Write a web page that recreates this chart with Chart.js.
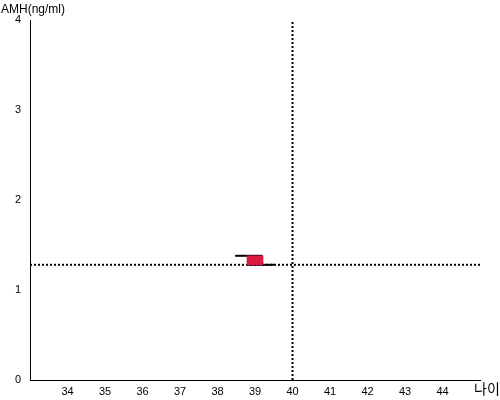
<!DOCTYPE html>
<html>
<head>
<meta charset="utf-8">
<script src="https://cdn.jsdelivr.net/npm/chart.js@4/dist/chart.umd.min.js"></script>
<style>
  body { margin: 0; background: #fff; }
  #wrap { width: 500px; height: 400px; }
</style>
</head>
<body>
<div id="wrap"><canvas id="amhChart" width="500" height="400"></canvas></div>
<script>
// data
const ageRange = [33, 45];
const ageTicks = [34, 35, 36, 37, 38, 39, 40, 41, 42, 43, 44];
const amhRange = [0, 4];
const patientAge = 39;
const patientAmh = [1.28, 1.38];
const topMark = [38.47, 39.2];      // upper black bar, x from / to
const bottomMark = [38.8, 39.53];   // lower black bar, x from / to
const refAge = 40;
const refAmh = 1.28;

const axisTitles = {
    id: 'axisTitles',
    afterDraw(chart) {
        const c = chart.ctx;
        c.save();
        c.fillStyle = '#000';
        c.textBaseline = 'top';
        c.textAlign = 'left';
        c.font = '12px "Liberation Sans", Arial, sans-serif';
        c.fillText('AMH(ng/ml)', 1, 4);
        c.font = '14px "Noto Sans CJK KR", sans-serif';
        c.fillText('나이', 474, 382);
        c.restore();
    }
};

const dotted = { borderColor: '#000', borderWidth: 2, borderDash: [2, 2], pointRadius: 0, fill: false };

new Chart(document.getElementById('amhChart'), {
    data: {
        datasets: [
            {
                type: 'bar',
                data: [{ x: patientAge, y: patientAmh }],
                backgroundColor: '#DC1A40',
                barThickness: 16,
                borderWidth: 0,
                borderRadius: 0,
                borderSkipped: false,
                grouped: false
            },
            {
                type: 'line',
                data: [{ x: topMark[0], y: patientAmh[1] }, { x: topMark[1], y: patientAmh[1] }],
                borderColor: '#000', borderWidth: 2, pointRadius: 0
            },
            {
                type: 'line',
                data: [{ x: bottomMark[0], y: patientAmh[0] }, { x: bottomMark[1], y: patientAmh[0] }],
                borderColor: '#000', borderWidth: 2, pointRadius: 0
            },
            Object.assign({ type: 'line', data: [{ x: refAge, y: amhRange[0] }, { x: refAge, y: amhRange[1] }] }, dotted),
            Object.assign({ type: 'line', data: [{ x: ageRange[0], y: refAmh }, { x: ageRange[1], y: refAmh }] }, dotted)
        ]
    },
    options: {
        responsive: false,
        animation: false,
        layout: { padding: { top: 20, right: 20, left: 0, bottom: 0 } },
        plugins: { legend: { display: false }, tooltip: { enabled: false } },
        scales: {
            x: {
                type: 'linear',
                offset: false,
                min: ageRange[0],
                max: ageRange[1],
                afterFit(s) { s.height = 20; },
                afterBuildTicks(s) { s.ticks = ageTicks.map(v => ({ value: v })); },
                grid: { display: false, drawTicks: false, offset: false },
                border: { display: true, color: '#000', width: 1 },
                ticks: { color: '#000', padding: 5, font: { family: '"Liberation Sans", Arial', size: 11 } }
            },
            y: {
                min: amhRange[0],
                max: amhRange[1],
                afterFit(s) { s.width = 30; },
                grid: { display: false, drawTicks: false },
                border: { display: true, color: '#000', width: 1 },
                ticks: { stepSize: 1, color: '#000', padding: 9, font: { family: '"Liberation Sans", Arial', size: 11 } }
            }
        }
    },
    plugins: [axisTitles]
});
</script>
</body>
</html>
